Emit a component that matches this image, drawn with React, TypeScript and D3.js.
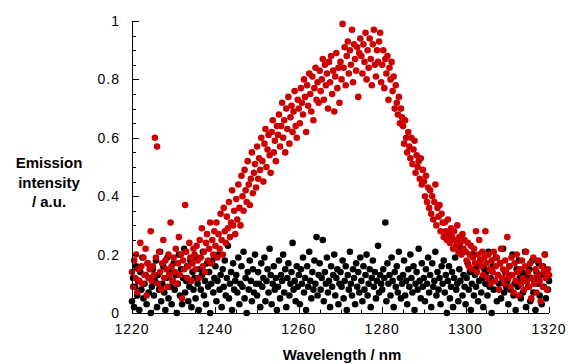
import * as d3 from 'd3'
import { useEffect, useRef } from 'react'

// sampling grid of the spectrometer (nm)
const wlStart = 1220
const wlStep = 0.25

// red: sample emission (hundredths of a.u.), 1220 -> 1320 nm
const redVals = [
  14, 9, 18, 12, 20, 7, 15, 11, 24, 16, 10, 19, 13, 22, 6, 17, 12, 15, 28, 11,
  16, 13, 60, 19, 57, 10, 21, 14, 8, 17, 25, 12, 18, 15, 9, 20, 13, 31, 16, 11,
  19, 14, 22, 10, 17, 26, 13, 20, 5, 18, 15, 37, 21, 12, 16, 24, 19, 11, 17, 22,
  20, 15, 23, 18, 12, 25, 19, 29, 16, 21, 14, 24, 27, 18, 22, 31, 17, 25, 20, 28,
  23, 31, 19, 27, 22, 34, 25, 20, 36, 28, 24, 33, 29, 38, 26, 31, 42, 30, 35, 27,
  39, 32, 44, 36, 30, 47, 40, 35, 49, 42, 38, 52, 44, 37, 46, 55, 41, 48, 51, 43,
  57, 46, 53, 49, 60, 52, 45, 58, 63, 50, 56, 61, 54, 48, 62, 66, 55, 59, 52, 64,
  61, 68, 57, 64, 72, 60, 66, 55, 70, 63, 74, 58, 67, 71, 62, 69, 76, 64, 60, 73,
  70, 65, 77, 72, 68, 80, 74, 62, 78, 71, 82, 75, 69, 81, 66, 77, 84, 73, 79, 72,
  83, 76, 80, 87, 73, 85, 78, 82, 70, 86, 79, 88, 75, 83, 69, 81, 89, 77, 84, 72,
  86, 80, 99, 84, 91, 78, 88, 93, 82, 90, 85, 97, 79, 92, 87, 83, 91, 74, 89, 94,
  88, 82, 92, 86, 96, 80, 90, 84, 94, 87, 78, 92, 97, 85, 81, 90, 86, 93, 96, 79,
  85, 90, 77, 87, 82, 88, 73, 84, 80, 86, 76, 81, 70, 78, 72, 68, 74, 65, 70, 67,
  64, 58, 66, 60, 55, 62, 57, 53, 60, 51, 56, 59, 48, 54, 50, 52, 46, 53, 44, 49,
  45, 40, 47, 38, 43, 36, 42, 34, 40, 32, 38, 44, 30, 36, 33, 37, 28, 34, 31, 26,
  31, 28, 25, 32, 27, 24, 29, 26, 22, 28, 25, 23, 30, 21, 26, 24, 20, 27, 22, 25,
  21, 18, 24, 16, 20, 23, 15, 19, 22, 17, 28, 14, 20, 25, 18, 16, 21, 13, 19, 28,
  17, 12, 20, 15, 10, 18, 14, 21, 11, 16, 19, 13, 8, 17, 22, 12, 15, 10, 18, 14,
  26, 12, 16, 9, 19, 13, 7, 17, 11, 20, 14, 6, 15, 10, 18, 12, 8, 16, 21, 11,
  14, 9, 17, 5, 12, 19, 10, 15, 7, 13, 18, 11, 4, 16, 9, 14, 20, 12, 8, 15,
  13,
]

// black: reference / background (hundredths of a.u.)
const blackVals = [
  4, 12, 2, 9, 16, 6, 11, 1, 14, 8, 19, 5, 10, 13, 3, 17, 7, 12, 0, 9,
  15, 6, 11, 18, 2, 13, 8, 21, 4, 10, 16, 7, 1, 12, 19, 5, 14, 9, 3, 11,
  17, 8, 13, 0, 10, 20, 6, 15, 3, 12, 22, 7, 11, 16, 4, 9, 18, 2, 14, 8,
  12, 5, 19, 10, 1, 15, 8, 13, 21, 6, 11, 3, 17, 9, 14, 0, 10, 18, 7, 12,
  16, 4, 11, 20, 8, 13, 2, 15, 9, 18, 6, 12, 23, 5, 10, 14, 1, 17, 8, 11,
  13, 7, 19, 3, 10, 16, 9, 21, 5, 12, 0, 14, 8, 18, 11, 4, 15, 7, 20, 10,
  6, 14, 10, 2, 17, 9, 12, 19, 4, 11, 15, 7, 22, 13, 3, 10, 16, 8, 12, 1,
  9, 18, 5, 13, 11, 20, 7, 15, 2, 12, 17, 6, 10, 14, 24, 8, 11, 4, 16, 9,
  13, 3, 15, 10, 19, 7, 12, 1, 16, 9, 21, 11, 5, 14, 8, 18, 10, 26, 6, 13,
  17, 8, 12, 25, 4, 14, 10, 19, 7, 11, 2, 16, 9, 13, 20, 6, 12, 15, 3, 10,
  14, 9, 18, 5, 11, 16, 1, 13, 8, 21, 10, 6, 15, 12, 3, 17, 9, 14, 7, 19,
  11, 4, 16, 8, 13, 20, 6, 10, 15, 2, 12, 18, 9, 14, 5, 11, 23, 7, 13, 10,
  8, 15, 12, 31, 4, 17, 10, 13, 6, 19, 11, 2, 14, 9, 16, 7, 21, 12, 5, 10,
  13, 18, 6, 11, 3, 15, 9, 20, 12, 7, 16, 1, 10, 14, 8, 22, 11, 5, 17, 9,
  12, 4, 15, 10, 19, 7, 13, 2, 17, 9, 11, 21, 6, 14, 8, 12, 3, 16, 10, 18,
  7, 13, 0, 11, 16, 5, 9, 14, 2, 12, 19, 8, 10, 4, 15, 11, 22, 6, 13, 9,
  3, 12, 17, 8, 14, 1, 10, 20, 6, 13, 9, 16, 4, 11, 18, 7, 12, 2, 15, 10,
  14, 6, 21, 9, 12, 0, 16, 8, 11, 19, 4, 13, 10, 17, 5, 12, 22, 7, 14, 9,
  11, 3, 16, 8, 13, 20, 6, 10, 1, 15, 9, 18, 12, 5, 14, 7, 11, 21, 2, 13,
  9, 15, 4, 12, 18, 7, 11, 1, 14, 10, 17, 6, 13, 3, 16, 9, 20, 5, 12, 8,
  11,
]

const xTicks = [1220, 1240, 1260, 1280, 1300, 1320]
const yTicks = [0, 0.2, 0.4, 0.6, 0.8, 1]
const yTickLabels = ['0', '0.2', '0.4', '0.6', '0.8', '1']

function makeChart(el: SVGSVGElement) {
  const svg = d3.select(el)
  svg.selectAll('*').remove()

  const x = d3.scaleLinear().domain([1220, 1320]).range([132, 549])
  const y = d3.scaleLinear().domain([0, 1]).range([313, 21])

  const toPts = (vals: number[]) => vals.map((v, i) => [wlStart + i * wlStep, v / 100])

  const font = 'Liberation Sans, Arial, Helvetica, sans-serif'

  // points: black first, red on top
  svg.append('g').selectAll('circle')
    .data(toPts(blackVals))
    .join('circle')
    .attr('cx', d => x(d[0])).attr('cy', d => y(d[1]))
    .attr('r', 3.3).attr('fill', '#000')

  svg.append('g').selectAll('circle')
    .data(toPts(redVals))
    .join('circle')
    .attr('cx', d => x(d[0])).attr('cy', d => y(d[1]))
    .attr('r', 3.3).attr('fill', '#cc0000')

  // x axis (ticks pointing inward)
  const gx = svg.append('g').attr('stroke', '#000').attr('stroke-width', 1)
  gx.append('line').attr('x1', x(1220)).attr('x2', x(1320)).attr('y1', 313.5).attr('y2', 313.5)
  d3.range(1220, 1321, 5).forEach(t => {
    const major = t % 20 === 0
    gx.append('line')
      .attr('x1', Math.round(x(t)) + 0.5).attr('x2', Math.round(x(t)) + 0.5)
      .attr('y1', 313).attr('y2', major ? 307 : 309.5)
  })
  svg.append('g').selectAll('text')
    .data(xTicks)
    .join('text')
    .attr('x', d => x(d)).attr('y', 334)
    .attr('text-anchor', 'middle')
    .attr('font-family', font).attr('font-size', 14)
    .attr('letter-spacing', 1)
    .text(d => String(d))

  // y axis
  const gy = svg.append('g').attr('stroke', '#000').attr('stroke-width', 1)
  gy.append('line').attr('x1', 132.5).attr('x2', 132.5).attr('y1', y(0)).attr('y2', y(1))
  d3.range(0, 21).forEach(i => {
    const t = i * 0.05
    const major = i % 4 === 0
    gy.append('line')
      .attr('x1', 132).attr('x2', major ? 139 : 136)
      .attr('y1', Math.round(y(t)) + 0.5).attr('y2', Math.round(y(t)) + 0.5)
  })
  svg.append('g').selectAll('text')
    .data(yTicks)
    .join('text')
    .attr('x', 120).attr('y', d => y(d) + 5)
    .attr('text-anchor', 'end')
    .attr('font-family', font).attr('font-size', 14)
    .attr('letter-spacing', 1)
    .text((d, i) => yTickLabels[i])

  // axis titles
  svg.append('text')
    .attr('x', 342).attr('y', 360)
    .attr('text-anchor', 'middle')
    .attr('font-family', font).attr('font-size', 15).attr('font-weight', 'bold')
    .text('Wavelength / nm')

  const yt = svg.append('text')
    .attr('text-anchor', 'middle')
    .attr('font-family', font).attr('font-size', 15).attr('font-weight', 'bold')
  ;['Emission', 'intensity', '/ a.u.'].forEach((s, i) => {
    yt.append('tspan').attr('x', 49).attr('y', 168 + i * 19.5).text(s)
  })
}

export default function App() {
  const ref = useRef<SVGSVGElement>(null)
  useEffect(() => {
    if (ref.current) makeChart(ref.current)
  }, [])
  return (
    <svg ref={ref} width={568} height={364}
      style={{ position: 'absolute', left: 0, top: 0, background: '#fff' }} />
  )
}
